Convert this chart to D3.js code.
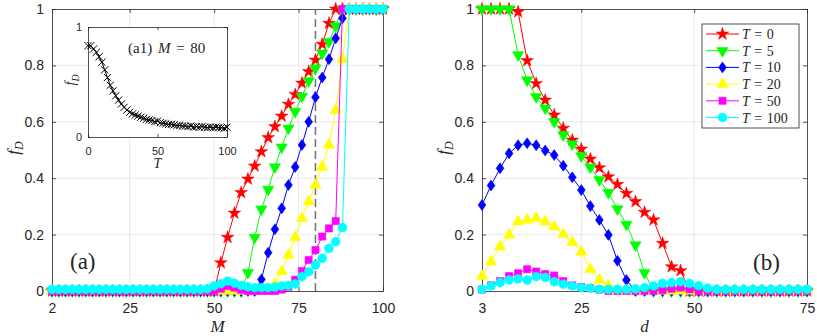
<!DOCTYPE html>
<html>
<head>
<meta charset="utf-8">
<script src="https://cdn.jsdelivr.net/npm/d3@7"></script>
<style>
  body { margin: 0; background: #fff; }
  text { fill: #262626; }
</style>
</head>
<body>
<div id="chart"></div>
<script>
// ---- data ----

// panel (a): f_D against M, one array per T
var mValues = [2,4,6,8,10,12,14,16,18,20,22,24,26,28,30,32,34,36,38,40,
  42,44,46,48,50,52,54,56,58,60,62,64,66,68,70,72,74,76,78,80,
  82,84,86,88,90,92,94,96,98,100];

var fdM_T0 = [0,0,0,0,0,0,0,0,0,0, 0,0,0,0,0,0,0,0,0,0,
  0,0,0,0,0,0.10,0.19,0.276,0.349,0.397,
  0.443,0.494,0.544,0.583,0.62,0.662,0.697,0.737,0.778,0.819,
  0.875,0.949,1,1,1,1,1,1,1,1];
var fdM_T5 = [0,0,0,0,0,0,0,0,0,0, 0,0,0,0,0,0,0,0,0,0,
  0,0,0,0,0,0,0,0,0,0.065,
  0.19,0.29,0.36,0.44,0.51,0.577,0.636,0.69,0.745,0.79,
  0.843,0.884,0.94,1,1,1,1,1,1,1];
var fdM_T10 = [0,0,0,0,0,0,0,0,0,0, 0,0,0,0,0,0,0,0,0,0,
  0,0,0,0,0,0,0,0,0,0,
  0,0.041,0.136,0.219,0.293,0.376,0.44,0.518,0.6,0.687,
  0.757,0.822,0.896,0.967,1,1,1,1,1,1];
var fdM_T20 = [0,0,0,0,0,0,0,0,0,0, 0,0,0,0,0,0,0,0,0,0,
  0,0,0,0,0,0,0,0,0,0,
  0,0,0,0.024,0.069,0.128,0.19,0.258,0.317,0.376,
  0.44,0.518,0.642,0.822,1,1,1,1,1,1];
var fdM_T50 = [0,0,0,0,0,0,0,0,0,0, 0,0,0,0,0,0,0,0,0,0,
  0,0,0,0,0,0.008,0.018,0.012,0.004,0,
  0,0,0,0,0.005,0.015,0.04,0.071,0.11,0.145,
  0.193,0.222,0.248,1,1,1,1,1,1,1];
var fdM_T100 = [0.006,0.006,0.006,0.006,0.006,0.006,0.006,0.006,0.006,0.006,
  0.006,0.006,0.006,0.006,0.006,0.006,0.006,0.006,0.006,0.006,
  0.006,0.006,0.006,0.008,0.018,0.026,0.035,0.028,0.02,0.015,
  0.012,0.012,0.012,0.014,0.018,0.02,0.025,0.051,0.068,0.092,
  0.116,0.151,0.175,0.225,1,1,1,1,1,1];

// panel (b): f_D against d, one array per T
var dValues = [3,5,7,9,11,13,15,17,19,21,23,25,27,29,31,33,35,37,39,41,
  43,45,47,49,51,53,55,57,59,61,63,65,67,69,71,73,75];

var fdD_T0 = [1,1,1,1,0.99,0.817,0.736,0.677,0.624,0.577,0.535,0.503,0.468,0.437,
  0.405,0.378,0.346,0.317,0.279,0.252,0.169,0.086,0.072,
  0,0,0,0,0,0,0,0,0,0,0,0,0,0];
var fdD_T5 = [1,1,1,1,0.837,0.748,0.689,0.648,0.60,0.553,0.521,0.479,0.439,0.394,
  0.349,0.291,0.236,0.163,0.065,
  0,0,0,0,0,0,0,0,0,0,0,0,0,0,0,0,0,0,0];
var fdD_T10 = [0.305,0.374,0.435,0.488,0.517,0.524,0.517,0.498,0.482,0.444,0.403,
  0.358,0.301,0.252,0.199,0.107,0.039,
  0,0,0,0,0,0,0,0,0,0,0,0,0,0,0,0,0,0,0,0];
var fdD_T20 = [0.053,0.104,0.157,0.199,0.246,0.252,0.258,0.246,0.228,0.201,0.173,
  0.139,0.077,0.039,0.02,
  0,0,0,0,0,0,0,0,0,0,0,0,0,0,0,0,0,0,0,0,0,0];
var fdD_T50 = [0.005,0.02,0.035,0.053,0.063,0.077,0.069,0.06,0.055,0.035,0.02,0.014,
  0.01,0.005,0,0,0,0,0,0,0.003,0.008,0.012,0.006,
  0,0,0,0,0,0,0,0,0,0,0,0,0];
var fdD_T100 = [0.006,0.018,0.03,0.039,0.043,0.039,0.051,0.048,0.033,0.024,0.018,0.012,
  0.01,0.006,0.006,0.006,0.006,0.008,0.012,0.018,0.027,0.03,0.033,0.027,0.019,0.01,
  0.006,0.006,0.006,0.006,0.006,0.006,0.006,0.006,0.006,0.006,0.006];

// inset (a1): f_D against T at M = 80
var tInset = [0,2,4,6,8,10,12,14,16,18,20,22,24,26,28,30,32,34,36,38,40,
  42,44,46,48,50,52,54,56,58,60,62,64,66,68,70,72,74,76,78,80,
  82,84,86,88,90,92,94,96,98,100];
var fdInset = [0.83,0.83,0.80,0.77,0.73,0.68,0.61,0.54,0.47,0.42,
  0.375,0.335,0.30,0.27,0.245,0.225,0.21,0.2,0.19,0.18,
  0.17,0.16,0.155,0.15,0.14,0.145,0.13,0.125,0.12,0.115,
  0.115,0.11,0.105,0.105,0.1,0.1,0.095,0.1,0.09,0.095,
  0.09,0.095,0.09,0.085,0.09,0.085,0.09,0.085,0.085,0.08,
  0.09];

var tLabels = ["0", "5", "10", "20", "50", "100"];
var yTicks = [0, 0.2, 0.4, 0.6, 0.8, 1];
var mTicks = [2, 25, 50, 75, 100];
var dTicks = [3, 25, 50, 75];

// ---- drawing ----
var sans = "Liberation Sans, Arial, sans-serif";
var serif = "Liberation Serif, DejaVu Serif, serif";
var axisColor = "#262626";

var diamond = {
  draw: function(ctx, size) {
    var h = Math.sqrt(size) * 0.75, w = h * 0.72;
    ctx.moveTo(0, -h); ctx.lineTo(w, 0); ctx.lineTo(0, h); ctx.lineTo(-w, 0); ctx.closePath();
  }
};
var cross = {
  draw: function(ctx, size) {
    var r = Math.sqrt(size) / 2;
    ctx.moveTo(-r, -r); ctx.lineTo(r, r); ctx.moveTo(-r, r); ctx.lineTo(r, -r);
  }
};

var styles = [
  { color: "#ff0000", type: d3.symbolStar, size: 50, rot: 0 },
  { color: "#00ff00", type: d3.symbolTriangle, size: 56, rot: 180 },
  { color: "#0000ff", type: diamond, size: 54, rot: 0 },
  { color: "#ffff00", type: d3.symbolTriangle, size: 56, rot: 0 },
  { color: "#ff00ff", type: d3.symbolSquare, size: 52, rot: 0 },
  { color: "#00ffff", type: d3.symbolCircle, size: 62, rot: 0 }
];

var svg = d3.select("#chart").append("svg")
  .attr("width", 817)
  .attr("height", 336);

var y = d3.scaleLinear().domain([0, 1]).range([291, 9]);
var xM = d3.scaleLinear().domain([2, 100]).range([52, 383]);
var xD = d3.scaleLinear().domain([3, 75]).range([482, 807]);

function styleAxis(g, fontSize) {
  g.attr("font-size", null).attr("font-family", null);
  g.selectAll("path, line").attr("stroke", axisColor).attr("stroke-width", 0.8);
  g.selectAll("text").attr("fill", axisColor)
    .attr("font-size", fontSize).attr("font-family", sans);
}

// grid, box and ticks for one main panel
function drawFrame(x, xTicks) {
  var g = svg.append("g");
  var x0 = x.range()[0], x1 = x.range()[1];
  g.selectAll(".vgrid").data(xTicks.slice(1, -1)).enter().append("line")
    .attr("x1", d => x(d)).attr("x2", d => x(d))
    .attr("y1", y(0)).attr("y2", y(1))
    .attr("stroke", "#e3e3e3").attr("stroke-width", 0.8);
  g.selectAll(".hgrid").data(yTicks.slice(1, -1)).enter().append("line")
    .attr("x1", x0).attr("x2", x1)
    .attr("y1", d => y(d)).attr("y2", d => y(d))
    .attr("stroke", "#e3e3e3").attr("stroke-width", 0.8);

  g.append("g").attr("transform", `translate(0, ${y(0)})`)
    .call(d3.axisBottom(x).tickValues(xTicks).tickSizeInner(-4).tickSizeOuter(0).tickPadding(12))
    .call(styleAxis, 14);
  g.append("g").attr("transform", `translate(0, ${y(1)})`)
    .call(d3.axisTop(x).tickValues(xTicks).tickSizeInner(-4).tickSizeOuter(0).tickFormat(""))
    .call(styleAxis, 14);
  g.append("g").attr("transform", `translate(${x0}, 0)`)
    .call(d3.axisLeft(y).tickValues(yTicks).tickSizeInner(-4).tickSizeOuter(0).tickPadding(8).tickFormat(d => d))
    .call(styleAxis, 14);
  g.append("g").attr("transform", `translate(${x1}, 0)`)
    .call(d3.axisRight(y).tickValues(yTicks).tickSizeInner(-4).tickSizeOuter(0).tickFormat(""))
    .call(styleAxis, 14);
}

function drawSeries(x, xs, ys, st) {
  var g = svg.append("g");
  var pts = xs.map((v, i) => [x(v), y(ys[i])]);
  g.append("path").datum(pts)
    .attr("d", d3.line())
    .attr("fill", "none")
    .attr("stroke", st.color)
    .attr("stroke-width", 1);
  g.selectAll("path.mk").data(pts).enter().append("path")
    .attr("class", "mk")
    .attr("transform", d => `translate(${d[0]},${d[1]}) rotate(${st.rot})`)
    .attr("d", d3.symbol().type(st.type).size(st.size))
    .attr("fill", st.color)
    .attr("stroke", st.color)
    .attr("stroke-width", 0.5);
}

// italic f with subscript D
function fdLabel(g, size) {
  var t = g.append("text")
    .attr("text-anchor", "middle")
    .attr("font-family", serif)
    .attr("font-style", "italic")
    .attr("font-size", size);
  t.append("tspan").text("f");
  t.append("tspan").attr("font-size", size * 0.7).attr("dy", size * 0.25).text("D");
  return t;
}

// panel (a)
drawFrame(xM, mTicks);
svg.append("line")
  .attr("x1", xM(80)).attr("x2", xM(80))
  .attr("y1", y(0)).attr("y2", y(1))
  .attr("stroke", "#707070").attr("stroke-width", 1.5)
  .attr("stroke-dasharray", "8,4");
var seriesM = [fdM_T0, fdM_T5, fdM_T10, fdM_T20, fdM_T50, fdM_T100];
seriesM.forEach((s, i) => drawSeries(xM, mValues, s, styles[i]));

// panel (b)
drawFrame(xD, dTicks);
var seriesD = [fdD_T0, fdD_T5, fdD_T10, fdD_T20, fdD_T50, fdD_T100];
seriesD.forEach((s, i) => drawSeries(xD, dValues, s, styles[i]));

// axis titles
svg.append("text").attr("x", xM(51)).attr("y", 332)
  .attr("text-anchor", "middle").attr("font-family", serif)
  .attr("font-style", "italic").attr("font-size", 17).text("M");
svg.append("text").attr("x", xD(39)).attr("y", 332)
  .attr("text-anchor", "middle").attr("font-family", serif)
  .attr("font-style", "italic").attr("font-size", 17).text("d");
fdLabel(svg.append("g").attr("transform", "translate(19,148) rotate(-90)"), 17);
fdLabel(svg.append("g").attr("transform", "translate(449,148) rotate(-90)"), 17);

// panel letters
svg.append("text").attr("x", 70).attr("y", 269)
  .attr("font-family", serif).attr("font-size", 23).text("(a)");
svg.append("text").attr("x", 753).attr("y", 270)
  .attr("font-family", serif).attr("font-size", 23).text("(b)");

// inset (a1)
var xT = d3.scaleLinear().domain([0, 100]).range([88, 227]);
var yT = d3.scaleLinear().domain([0, 1]).range([137, 27]);
var inset = svg.append("g");
inset.append("rect").attr("x", 88).attr("y", 27).attr("width", 139).attr("height", 110)
  .attr("fill", "#fff");
inset.append("g").attr("transform", "translate(0,137)")
  .call(d3.axisBottom(xT).tickValues([0, 50, 100]).tickSizeInner(-3).tickSizeOuter(0).tickPadding(10))
  .call(styleAxis, 11);
inset.append("g").attr("transform", "translate(0,27)")
  .call(d3.axisTop(xT).tickValues([0, 50, 100]).tickSizeInner(-3).tickSizeOuter(0).tickFormat(""))
  .call(styleAxis, 11);
inset.append("g").attr("transform", "translate(88,0)")
  .call(d3.axisLeft(yT).tickValues([0, 1]).tickSizeInner(-3).tickSizeOuter(0).tickPadding(6).tickFormat(d => d))
  .call(styleAxis, 11);
inset.append("g").attr("transform", "translate(227,0)")
  .call(d3.axisRight(yT).tickValues([0, 1]).tickSizeInner(-3).tickSizeOuter(0).tickFormat(""))
  .call(styleAxis, 11);

var insetPts = tInset.map((t, i) => [xT(t), yT(fdInset[i])]);
inset.append("path").datum(insetPts)
  .attr("d", d3.line())
  .attr("fill", "none").attr("stroke", "#000").attr("stroke-width", 1);
inset.selectAll("path.x").data(insetPts).enter().append("path")
  .attr("class", "x")
  .attr("transform", d => `translate(${d[0]},${d[1]})`)
  .attr("d", d3.symbol().type(cross).size(52))
  .attr("fill", "none").attr("stroke", "#000").attr("stroke-width", 1);

inset.append("text").attr("x", xT(50)).attr("y", 168)
  .attr("text-anchor", "middle").attr("font-family", serif)
  .attr("font-style", "italic").attr("font-size", 14).text("T");
fdLabel(inset.append("g").attr("transform", "translate(75,80) rotate(-90)"), 14);

var a1 = inset.append("text").attr("x", 128).attr("y", 53)
  .attr("font-family", serif).attr("font-size", 15).attr("word-spacing", 2);
a1.append("tspan").text("(a1) ");
a1.append("tspan").attr("font-style", "italic").text("M");
a1.append("tspan").text(" = 80");

// legend
var legend = svg.append("g");
legend.append("rect").attr("x", 702).attr("y", 24).attr("width", 97).attr("height", 104)
  .attr("fill", "#fff").attr("stroke", axisColor).attr("stroke-width", 0.8);
tLabels.forEach(function(lab, i) {
  var ly = 34 + i * 16.7;
  var st = styles[i];
  legend.append("line").attr("x1", 706).attr("x2", 739).attr("y1", ly).attr("y2", ly)
    .attr("stroke", st.color).attr("stroke-width", 1);
  legend.append("path")
    .attr("transform", `translate(722.5,${ly}) rotate(${st.rot})`)
    .attr("d", d3.symbol().type(st.type).size(st.size))
    .attr("fill", st.color).attr("stroke", st.color).attr("stroke-width", 0.5);
  var t = legend.append("text").attr("x", 742).attr("y", ly + 5)
    .attr("font-family", serif).attr("font-size", 14).attr("word-spacing", 1);
  t.append("tspan").attr("font-style", "italic").text("T");
  t.append("tspan").text(" = " + lab);
});
</script>
</body>
</html>
